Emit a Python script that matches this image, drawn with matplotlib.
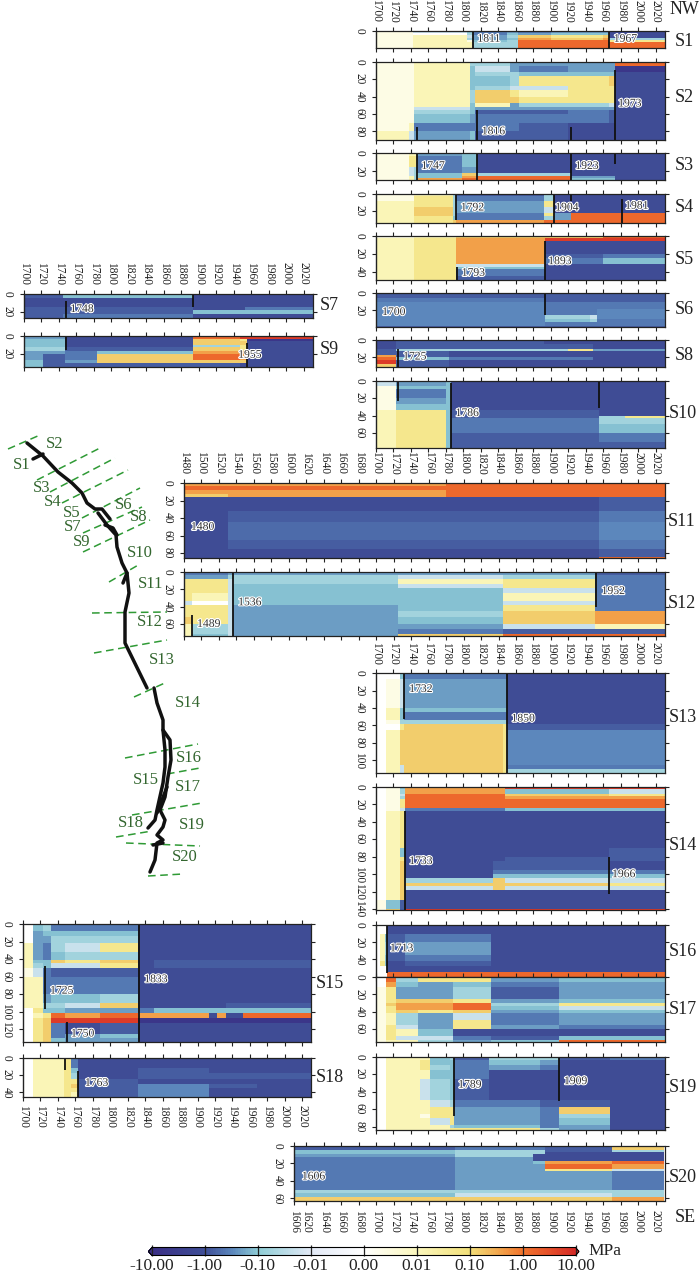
import numpy as np
import matplotlib
matplotlib.use("Agg")
import matplotlib.pyplot as plt
import matplotlib.patheffects as pe
from matplotlib.colors import LinearSegmentedColormap, Normalize
from matplotlib.cm import ScalarMappable

plt.rcParams['font.family'] = ['Liberation Serif', 'DejaVu Serif']

# stress change levels (MPa)
P, D, E, B, N, M, C, T, L = -6, -1.2, -0.7, -0.4, -0.3, -0.22, -0.12, -0.06, -0.02
W, V, Y, G, H, A, O, R = 0, 0.004, 0.012, 0.05, 0.15, 0.4, 1.5, 6

# ---- data: year edges, depth edges, stress values ----
S1_YEARS = [1700, 1742, 1804, 1811, 1850, 1862, 1900, 1960, 1967, 2030]
S1_DEPTHS = [0, 2, 5, 8, 10, 13, 20]
S1_VALUES = [[V, L, C, B, M, B, M, M, D],
             [V, W, T, B, C, M, C, C, D],
             [V, Y, L, M, T, H, G, H, D],
             [V, Y, T, M, C, A, H, A, T],
             [V, Y, V, C, T, O, O, O, G],
             [V, Y, Y, T, T, O, O, O, O]]

S2_YEARS = [1700, 1738, 1743, 1808, 1813, 1853, 1863, 1920, 1967, 1973, 2030]
S2_DEPTHS = [0, 5, 12, 16, 28, 33, 40, 48, 52, 56, 60, 70, 80, 90]
S2_VALUES = [[V, V, Y, T, T, M, M, M, M, O],
             [V, V, Y, C, L, M, B, M, M, P],
             [V, V, Y, C, T, T, C, C, C, D],
             [V, V, Y, C, C, T, G, G, H, D],
             [V, V, Y, C, T, L, L, G, G, D],
             [V, V, Y, T, H, G, Y, G, G, D],
             [V, V, Y, T, H, H, G, G, G, D],
             [V, V, Y, C, Y, M, T, T, L, D],
             [V, V, L, C, M, M, M, M, M, D],
             [V, V, T, C, E, E, E, B, E, D],
             [V, V, C, M, B, B, B, B, E, D],
             [V, Y, B, B, B, B, E, D, D, D],
             [Y, L, M, C, E, E, E, D, D, D]]

S3_YEARS = [1700, 1738, 1743, 1747, 1798, 1816, 1923, 1973, 2030]
S3_DEPTHS = [0, 3, 15, 22, 25, 27, 30]
S3_VALUES = [[V, Y, Y, M, C, D, D, D],
             [V, G, G, B, C, D, D, D],
             [V, L, T, B, M, D, D, D],
             [V, L, T, C, H, T, D, D],
             [V, Y, T, C, A, O, M, D],
             [V, Y, T, A, O, O, C, D]]

S4_YEARS = [1700, 1743, 1788, 1792, 1892, 1904, 1923, 2030]
S4_DEPTHS = [0, 3, 8, 16, 22, 26, 30, 34]
S4_VALUES = [[V, Y, T, E, T, D, D],
             [V, G, T, B, T, D, D],
             [Y, G, T, M, G, D, D],
             [Y, H, T, M, L, D, D],
             [Y, H, T, B, G, M, O],
             [Y, G, C, B, T, M, O],
             [Y, G, H, A, O, O, O]]

S5_YEARS = [1700, 1743, 1792, 1893, 1960, 2030]
S5_DEPTHS = [0, 2, 6, 20, 24, 31, 35, 37, 44, 49]
S5_VALUES = [[V, Y, H, H, O],
             [Y, G, A, R, R],
             [Y, G, A, D, D],
             [Y, G, A, E, B],
             [Y, G, A, B, C],
             [Y, G, L, D, D],
             [Y, G, C, D, D],
             [Y, G, B, D, D],
             [Y, G, E, D, D]]

S6_YEARS = [1700, 1747, 1893, 1945, 1953, 2030]
S6_DEPTHS = [0, 6, 10, 18, 26, 30, 34, 38, 40]
S6_VALUES = [[E, E, E, E, E],
             [B, B, E, E, E],
             [N, N, B, B, B],
             [N, N, B, B, N],
             [N, N, T, L, N],
             [N, N, C, T, B],
             [N, N, B, B, B],
             [E, E, E, E, E]]

S7_YEARS = [1700, 1745, 1893, 1953, 2030]
S7_DEPTHS = [0, 1, 5, 15, 18, 22, 27]
S7_VALUES = [[R, R, H, R],
             [E, C, D, D],
             [D, D, D, D],
             [E, E, D, B],
             [E, E, C, C],
             [E, B, D, D]]

S8_YEARS = [1700, 1723, 1783, 1892, 1920, 1948, 2030]
S8_DEPTHS = [0, 5, 10, 13, 17, 20, 23, 27, 31]
S8_VALUES = [[D, E, E, D, D, D],
             [D, E, E, E, E, D],
             [E, T, T, T, G, M],
             [E, E, D, D, D, D],
             [A, E, D, D, D, D],
             [O, C, B, B, B, D],
             [R, E, D, D, D, D],
             [H, E, D, D, D, D]]

S9_YEARS = [1700, 1722, 1747, 1783, 1893, 1947, 1955, 2030]
S9_DEPTHS = [0, 3, 6, 10, 12, 17, 20, 27, 30, 35]
S9_VALUES = [[M, M, D, D, O, R, R],
             [C, C, D, D, H, G, P],
             [C, C, D, D, H, H, D],
             [C, C, D, D, T, G, D],
             [T, T, E, E, H, G, D],
             [M, M, B, C, A, A, D],
             [M, E, B, H, O, A, D],
             [C, E, M, H, H, H, D],
             [C, E, E, E, E, D, D]]

S10_YEARS = [1700, 1723, 1780, 1786, 1955, 1985, 2030]
S10_DEPTHS = [0, 6, 10, 20, 27, 33, 40, 43, 50, 60, 70, 77]
S10_VALUES = [[L, M, C, D, D, D],
              [V, C, C, D, D, D],
              [V, B, C, D, D, D],
              [V, M, C, D, D, D],
              [V, C, C, D, D, D],
              [Y, G, C, E, D, D],
              [Y, G, C, E, T, G],
              [Y, G, C, B, T, T],
              [Y, G, C, B, C, C],
              [Y, G, C, E, B, B],
              [Y, G, C, E, E, E]]

S11_YEARS = [1480, 1530, 1780, 1955, 2030]
S11_DEPTHS = [0, 3, 8, 13, 16, 24, 32, 45, 65, 75, 84, 86]
S11_VALUES = [[A, A, O, O],
              [O, O, O, O],
              [A, A, O, O],
              [H, A, O, O],
              [D, D, D, E],
              [D, D, D, E],
              [D, E, E, B],
              [D, -0.55, -0.55, N],
              [D, E, E, B],
              [D, D, D, E],
              [D, D, D, O]]

S12_YEARS = [1480, 1489, 1530, 1536, 1725, 1845, 1950, 2030]
S12_DEPTHS = [0, 4, 8, 14, 18, 24, 33, 38, 45, 52, 60, 66, 72, 74]
S12_VALUES = [[B, B, M, M, M, M, E],
              [M, M, T, T, L, T, B],
              [G, G, L, T, Y, G, B],
              [G, G, L, C, L, G, B],
              [G, G, L, C, C, L, B],
              [G, Y, L, C, C, Y, B],
              [L, W, L, C, C, L, B],
              [G, G, L, M, C, G, B],
              [G, G, L, M, T, H, A],
              [H, G, L, M, C, H, A],
              [Y, T, L, M, M, L, Y],
              [Y, T, L, M, B, E, E],
              [Y, C, L, M, H, O, O]]

S13_YEARS = [1700, 1712, 1727, 1732, 1845, 1850, 2030]
S13_DEPTHS = [0, 1, 6, 40, 45, 54, 58, 65, 105, 110, 115]
S13_VALUES = [[W, W, A, A, A, R],
              [W, W, C, B, B, D],
              [W, V, L, M, M, D],
              [W, Y, C, C, C, D],
              [W, Y, C, B, B, D],
              [W, V, T, T, T, D],
              [W, W, G, H, G, E],
              [W, Y, H, H, G, N],
              [W, Y, L, H, G, B],
              [W, Y, L, H, G, T]]

S14_YEARS = [1700, 1712, 1727, 1733, 1834, 1848, 1966, 2030]
S14_DEPTHS = [0, 3, 8, 11, 14, 24, 28, 70, 80, 85, 95, 100, 104, 110, 114, 118, 130, 140, 141]
S14_VALUES = [[W, V, C, A, A, R, R],
              [W, V, T, A, A, C, L],
              [W, V, L, O, O, H, G],
              [W, V, T, O, O, A, A],
              [W, V, G, O, O, O, O],
              [W, V, L, B, B, C, C],
              [W, Y, G, D, D, D, D],
              [W, Y, C, D, D, D, E],
              [W, Y, G, D, D, E, E],
              [W, Y, H, D, E, E, D],
              [W, Y, H, D, B, B, B],
              [W, Y, H, D, C, C, C],
              [W, Y, H, T, H, L, L],
              [W, Y, H, H, H, H, G],
              [W, Y, H, L, H, L, L],
              [W, Y, H, D, D, D, D],
              [V, C, E, D, D, D, D],
              [V, H, E, R, R, R, R]]

S15_YEARS = [1700, 1712, 1723, 1732, 1748, 1788, 1832, 1850, 1913, 1922, 1933, 1952, 2030]
S15_DEPTHS = [0, 8, 14, 22, 32, 41, 45, 50, 60, 80, 90, 96, 102, 107, 113, 125, 130, 135]
S15_VALUES = [[W, C, T, B, B, B, D, D, D, D, D, D],
              [W, M, C, C, C, C, D, D, D, D, D, D],
              [W, M, M, T, T, T, D, D, D, D, D, D],
              [Y, M, B, T, L, G, D, D, D, D, D, D],
              [Y, M, B, C, T, T, D, D, D, D, D, D],
              [Y, C, C, H, G, H, D, E, E, E, E, E],
              [Y, T, C, L, L, G, D, E, E, E, E, E],
              [V, L, B, E, E, E, D, D, D, D, D, D],
              [Y, Y, B, B, B, B, D, D, D, D, D, D],
              [Y, Y, M, C, C, T, D, D, D, D, D, D],
              [Y, Y, T, T, L, H, D, D, D, D, E, E],
              [W, G, C, C, M, M, B, C, C, C, C, C],
              [W, Y, G, O, A, O, A, A, D, A, D, O],
              [W, G, H, R, R, R, P, P, P, P, P, P],
              [W, G, H, B, D, E, D, D, D, D, D, D],
              [W, G, H, B, M, C, D, D, D, D, D, D],
              [W, G, H, C, M, M, D, D, D, D, D, D]]

S16_YEARS = [1700, 1705, 1710, 1713, 1733, 1832, 2030]
S16_DEPTHS = [0, 10, 20, 35, 42, 48, 54, 60]
S16_VALUES = [[W, W, W, D, D, D],
              [W, Y, C, E, B, D],
              [W, Y, T, E, M, D],
              [W, Y, C, E, B, D],
              [W, G, C, D, E, D],
              [W, W, W, D, D, D],
              [W, W, W, O, O, O]]

S17_YEARS = [1700, 1712, 1723, 1748, 1788, 1832, 1909, 2030]
S17_DEPTHS = [0, 2, 6, 12, 26, 30, 34, 38, 42, 50, 55, 60, 68, 72, 75]
S17_VALUES = [[W, A, A, A, A, H, O],
              [W, O, T, G, G, M, C],
              [W, A, C, M, C, B, M],
              [V, G, M, M, T, E, M],
              [V, G, H, H, G, M, C],
              [V, H, A, A, O, T, G],
              [V, G, A, A, O, C, L],
              [V, G, H, G, H, M, C],
              [V, Y, T, M, L, B, M],
              [V, Y, T, M, G, B, M],
              [V, G, L, M, G, M, B],
              [V, G, Y, C, D, D, D],
              [V, G, L, L, B, E, C],
              [V, Y, Y, T, M, C, O]]

S18_YEARS = [1700, 1712, 1747, 1755, 1763, 1832, 1913, 1968, 2030]
S18_DEPTHS = [0, 1, 12, 18, 25, 30, 35, 40, 45]
S18_VALUES = [[W, V, Y, M, D, D, D, D],
              [W, Y, G, B, D, D, D, D],
              [W, Y, G, C, D, E, D, D],
              [W, Y, G, T, D, E, E, E],
              [W, Y, G, G, E, D, D, D],
              [W, Y, G, H, E, N, E, D],
              [W, Y, G, G, E, N, D, D],
              [W, Y, G, Y, E, N, D, D]]

S19_YEARS = [1700, 1712, 1750, 1762, 1785, 1789, 1829, 1888, 1909, 1968, 2030]
S19_DEPTHS = [0, 1, 4, 10, 15, 25, 50, 58, 66, 70, 78, 82, 84]
S19_VALUES = [[W, Y, Y, C, T, E, T, Y, O, O],
              [W, Y, Y, C, T, E, T, T, E, B],
              [W, Y, G, C, C, B, C, M, D, D],
              [W, Y, G, T, C, B, M, B, D, D],
              [W, Y, Y, C, C, B, D, D, D, D],
              [W, Y, L, T, C, E, D, D, D, D],
              [W, Y, Y, L, T, B, B, E, E, D],
              [W, Y, Y, G, G, M, M, B, H, D],
              [W, Y, V, G, G, M, M, B, T, D],
              [W, Y, Y, L, G, M, M, B, C, D],
              [W, Y, Y, Y, T, C, C, B, M, D],
              [W, Y, Y, Y, G, G, G, T, M, D]]

S20_YEARS = [1606, 1790, 1880, 1893, 1970, 2030]
S20_DEPTHS = [0, 2, 5, 7, 10, 13, 17, 21, 26, 29, 50, 54, 58, 63]
S20_VALUES = [[E, B, B, E, O],
              [E, B, B, E, H],
              [C, T, T, E, T],
              [C, T, T, D, D],
              [M, T, D, D, D],
              [B, M, D, D, D],
              [B, M, C, A, O],
              [B, M, M, O, A],
              [B, M, M, G, L],
              [B, M, M, M, B],
              [T, T, T, T, T],
              [C, L, L, L, T],
              [H, H, H, H, A]]

# rupture year lines: year, depth from, depth to
S1_LINES = [(1811, 0, 20), (1967, 0, 20)]
S2_LINES = [(1747, 75, 90), (1816, 56, 90), (1923, 75, 90), (1973, 10, 90)]
S3_LINES = [(1747, 0, 30), (1816, 0, 30), (1923, 0, 30), (1973, 0, 12)]
S4_LINES = [(1792, 0, 30), (1904, 0, 34), (1923, 0, 8), (1981, 6, 34)]
S5_LINES = [(1793, 34, 49), (1893, 6, 49)]
S6_LINES = [(1700, 0, 40), (1893, 0, 25)]
S7_LINES = [(1748, 8, 27), (1893, 0, 15)]
S8_LINES = [(1725, 10, 31)]
S9_LINES = [(1748, 0, 16), (1955, 8, 35)]
S10_LINES = [(1725, 0, 23), (1786, 3, 77), (1955, 0, 31)]
S11_LINES = [(1480, 0, 86)]
S12_LINES = [(1489, 50, 74), (1536, 0, 74), (1952, 0, 40)]
S13_LINES = [(1732, 0, 52), (1850, 0, 115)]
S14_LINES = [(1733, 28, 141), (1966, 80, 123)]
S15_LINES = [(1725, 48, 97), (1750, 112, 135), (1833, 0, 135)]
S16_LINES = [(1713, 0, 56)]
S18_LINES = [(1748, 0, 14), (1763, 15, 45)]
S19_LINES = [(1789, 0, 68), (1909, 0, 51)]
S20_LINES = [(1606, 0, 63)]

# year labels inside panels: text, year position, depth
S1_LABELS = [("1811", 1816, 9), ("1967", 1972, 9)]
S2_LABELS = [("1816", 1821, 80), ("1973", 1977, 48)]
S3_LABELS = [("1747", 1752, 14), ("1923", 1928, 14)]
S4_LABELS = [("1792", 1797, 16), ("1904", 1905, 16), ("1981", 1985, 14)]
S5_LABELS = [("1793", 1798, 41), ("1893", 1897, 28)]
S6_LABELS = [("1700", 1707, 22)]
S7_LABELS = [("1748", 1753, 17)]
S8_LABELS = [("1725", 1731, 19)]
S9_LABELS = [("1955", 1945, 21)]
S10_LABELS = [("1786", 1791, 37)]
S11_LABELS = [("1480", 1488, 50)]
S12_LABELS = [("1489", 1495, 60), ("1536", 1542, 35), ("1952", 1958, 22)]
S13_LABELS = [("1732", 1738, 18), ("1850", 1855, 52)]
S14_LABELS = [("1733", 1738, 85), ("1966", 1970, 100)]
S15_LABELS = [("1725", 1731, 76), ("1750", 1755, 125), ("1833", 1839, 63)]
S16_LABELS = [("1713", 1716, 27)]
S18_LABELS = [("1763", 1771, 29)]
S19_LABELS = [("1789", 1794, 32), ("1909", 1915, 28)]
S20_LABELS = [("1606", 1615, 35)]

S1_TICKS = [0]
S2_TICKS = [0, 20, 40, 60, 80]
S3_TICKS = [0, 20]
S4_TICKS = [0, 20]
S5_TICKS = [0, 20, 40]
S6_TICKS = [0, 20]
S7_TICKS = [0, 20]
S8_TICKS = [0, 20]
S9_TICKS = [0, 20]
S10_TICKS = [0, 20, 40, 60]
S11_TICKS = [0, 20, 40, 60, 80]
S12_TICKS = [0, 20, 40, 60]
S13_TICKS = [0, 20, 40, 60, 80, 100]
S14_TICKS = [0, 20, 40, 60, 80, 100, 120, 140]
S15_TICKS = [0, 20, 40, 60, 80, 100, 120]
S16_TICKS = [0, 20, 40]
S17_TICKS = [0, 20, 40, 60]
S18_TICKS = [0, 20, 40]
S19_TICKS = [0, 20, 40, 60, 80]
S20_TICKS = [0, 20, 40, 60]

# fault traces and section lines of the location map, read in picture pixels
FAULT_TRACES = [
    [(27, 443), (43, 456), (58, 472), (72, 483), (82, 493), (87, 503), (95, 509), (102, 509), (110, 519)],
    [(33, 459), (43, 454)],
    [(98, 513), (107, 525), (116, 535), (117, 547), (122, 563), (127, 573), (129, 593), (125, 612),
     (125, 643), (147, 688)],
    [(105, 525), (113, 528), (117, 535)],
    [(127, 573), (123, 583)],
    [(154, 688), (157, 703), (163, 720), (163, 730), (165, 750), (165, 767), (163, 783), (157, 810),
     (155, 820), (148, 828)],
    [(163, 730), (170, 740), (171, 760), (168, 777), (165, 797), (160, 810), (165, 820), (163, 827),
     (157, 835), (163, 840), (157, 843), (155, 860), (150, 872)],
    [(167, 787), (157, 813)],
    [(153, 845), (163, 843)],
]
SECTION_LINES = [
    [(8, 449), (40, 435)], [(37, 480), (102, 447)], [(50, 492), (115, 458)], [(62, 503), (128, 470)],
    [(82, 518), (140, 488)], [(83, 533), (142, 507)], [(83, 552), (150, 520)], [(109, 582), (140, 564)],
    [(92, 613), (167, 612)], [(94, 653), (167, 640)], [(134, 697), (167, 682)], [(125, 758), (198, 744)],
    [(167, 774), (200, 768)], [(132, 815), (202, 803)], [(116, 837), (152, 831)], [(126, 843), (200, 846)],
    [(148, 876), (183, 874)],
]
MAP_NAMES = ["S1", "S2", "S3", "S4", "S5", "S6", "S7", "S8", "S9", "S10",
             "S11", "S12", "S13", "S14", "S15", "S16", "S17", "S18", "S19", "S20"]
MAP_X = [22, 55, 42, 53, 72, 124, 73, 139, 82, 140, 151, 150, 162, 188, 146, 189, 188, 131, 192, 185]
MAP_Y = [465, 444, 488, 502, 513, 505, 527, 517, 542, 553, 584, 622, 660, 703, 780, 758, 787, 823, 825, 857]

BAR_TICKS = [-4, -3, -2, -1, 0, 1, 2, 3, 4]
BAR_LABELS = ["-10.00", "-1.00", "-0.10", "-0.01", "0.00", "0.01", "0.10", "1.00", "10.00"]

# ---- layout in picture pixels: left, right, top, bottom ----
W_PX, H_PX = 700, 1276
RIGHT_COL = (376, 664.5)
LEFT_COL = (24, 312.5)
S15_COL = (23, 311)
WIDE_COL = (184, 664.5)
LAYOUT = {
    "S1": (RIGHT_COL, 31, 48.3), "S2": (RIGHT_COL, 61.7, 140), "S3": (RIGHT_COL, 153.3, 180.3),
    "S4": (RIGHT_COL, 193.7, 223), "S5": (RIGHT_COL, 236, 280), "S6": (RIGHT_COL, 293.3, 327.3),
    "S8": (RIGHT_COL, 340, 367), "S10": (RIGHT_COL, 380.7, 448), "S7": (LEFT_COL, 293.7, 318),
    "S9": (LEFT_COL, 336, 367.3), "S11": (WIDE_COL, 483, 558.3), "S12": (WIDE_COL, 572, 636),
    "S13": (RIGHT_COL, 673.3, 773.3), "S14": (RIGHT_COL, 786.7, 910), "S15": (S15_COL, 924, 1042.3),
    "S16": (RIGHT_COL, 925, 976.7), "S17": (RIGHT_COL, 976.7, 1042.3), "S18": (S15_COL, 1057.7, 1096.7),
    "S19": (RIGHT_COL, 1056.7, 1130), "S20": ((294, 664.5), 1145.7, 1201),
}
SIDE_LABELS = {"S1": (684, 41), "S2": (684, 98), "S3": (684, 166), "S4": (684, 207), "S5": (684, 259),
               "S6": (684, 309), "S8": (684, 355), "S10": (683, 413), "S11": (682, 521), "S12": (682, 603),
               "S13": (683, 718), "S14": (683, 845), "S16": (683, 951), "S17": (683, 1010), "S19": (683, 1088),
               "S20": (683, 1178), "S7": (329, 306), "S9": (329, 350), "S15": (330, 984), "S18": (330, 1077)}
TOP_LABELLED = ["S1", "S7", "S11", "S13"]
BOTTOM_LABELLED = ["S18", "S20"]

# ---- colour scale ----
NODES = [(-4, "#3a2f85"), (-3, "#3f4f97"), (-2.5, "#5b86bc"), (-2, "#8fcdd6"), (-1, "#e2e9f6"), (0, "#ffffff"),
         (1, "#fbf7bd"), (2, "#f2e07a"), (2.6, "#f2a24a"), (3, "#f1752d"), (3.5, "#e6512a"), (4, "#d42a26")]
cmap = LinearSegmentedColormap.from_list("stress", [((i + 4) / 8, c) for i, c in NODES])
cmap.set_under("#3a2f85")
cmap.set_over("#d42a26")


def to_index(values):
    v = np.asarray(values, dtype=float)
    a = np.abs(v)
    out = v / 0.01
    big = a >= 0.01
    out[big] = np.sign(v[big]) * (np.log10(a[big]) + 3)
    return out


fig = plt.figure(figsize=(W_PX / 100, H_PX / 100), dpi=100, facecolor="white")


def add_px_axes(left, right, top, bottom):
    return fig.add_axes([left / W_PX, 1 - bottom / H_PX, (right - left) / W_PX, (bottom - top) / H_PX])


halo = [pe.withStroke(linewidth=1.6, foreground="white")]

# ---- one axes per section ----
for name, (col, top, bottom) in LAYOUT.items():
    years = globals()[name + "_YEARS"]
    depths = globals()[name + "_DEPTHS"]
    values = globals()[name + "_VALUES"]
    ax = add_px_axes(col[0], col[1], top, bottom)
    ax.pcolormesh(years, depths, to_index(values), cmap=cmap, vmin=-4, vmax=4, shading="flat", linewidth=0)
    ax.set_xlim(years[0], 2030)
    ax.set_ylim(depths[-1], 0)

    xt = list(range(1500 if years[0] < 1500 else 1620 if years[0] == 1606 else 1700, 2021, 20))
    if years[0] < 1700 and years[0] not in xt:
        xt = [years[0]] + xt
    ax.set_xticks(xt)
    ax.set_yticks(globals()[name + "_TICKS"])
    ax.tick_params(axis="both", length=3.2, width=0.8, direction="out", color="#222222",
                   top=True, bottom=True, left=True, right=True, labelsize=8.3, labelcolor="#222222")
    ax.tick_params(axis="x", labeltop=name in TOP_LABELLED, labelbottom=name in BOTTOM_LABELLED,
                   labelrotation=-90, pad=3)
    ax.tick_params(axis="y", pad=4.5)
    for lab in ax.get_yticklabels():
        lab.set_rotation(-90)
        lab.set_va("center")
    for spine in ax.spines.values():
        spine.set_linewidth(0.9)
        spine.set_color("#222222")
    ax.spines["left"].set_linewidth(1.0)

    for year, d0, d1 in globals().get(name + "_LINES", []):
        ax.plot([year, year], [d0, d1], color="#111111", lw=1.3, solid_capstyle="butt", clip_on=True)
    for text, year, depth in globals().get(name + "_LABELS", []):
        ax.text(year, depth, text, fontsize=8.4, color="#333333", ha="left", va="center", path_effects=halo)

# ---- overlay for map and free texts, in picture pixels ----
over = fig.add_axes([0, 0, 1, 1], facecolor="none")
over.set_xlim(0, W_PX)
over.set_ylim(H_PX, 0)
over.axis("off")

for line in SECTION_LINES:
    xs, ys = zip(*line)
    over.plot(xs, ys, color="#2f9a35", lw=1.1, dashes=(5, 3))
for trace in FAULT_TRACES:
    xs, ys = zip(*trace)
    over.plot(xs, ys, color="#111111", lw=2.5, solid_capstyle="round", solid_joinstyle="round")
for name, x, y in zip(MAP_NAMES, MAP_X, MAP_Y):
    over.text(x, y, name, fontsize=12, color="#33662f", ha="center", va="center")

for name, (x, y) in SIDE_LABELS.items():
    over.text(x, y, name, fontsize=13, color="#222222", ha="center", va="center")
over.text(684, 10, "NW", fontsize=13, color="#222222", ha="center", va="center")
over.text(685, 1218, "SE", fontsize=13, color="#222222", ha="center", va="center")
over.text(588, 1251, "MPa", fontsize=12.5, color="#222222", ha="left", va="center")

# ---- colour bar ----
cax = add_px_axes(148.5, 579, 1247.5, 1255.5)
sm = ScalarMappable(norm=Normalize(-4, 4), cmap=cmap)
cb = fig.colorbar(sm, cax=cax, orientation="horizontal", extend="both", extendfrac=0.008)
cb.set_ticks(BAR_TICKS)
cb.set_ticklabels(BAR_LABELS)
cb.ax.tick_params(labelsize=12.5, length=8, width=0.9, direction="in", pad=2, color="#222222", labelcolor="#222222")
cb.outline.set_linewidth(0.8)

fig.savefig("out.png", dpi=100, facecolor="white")
